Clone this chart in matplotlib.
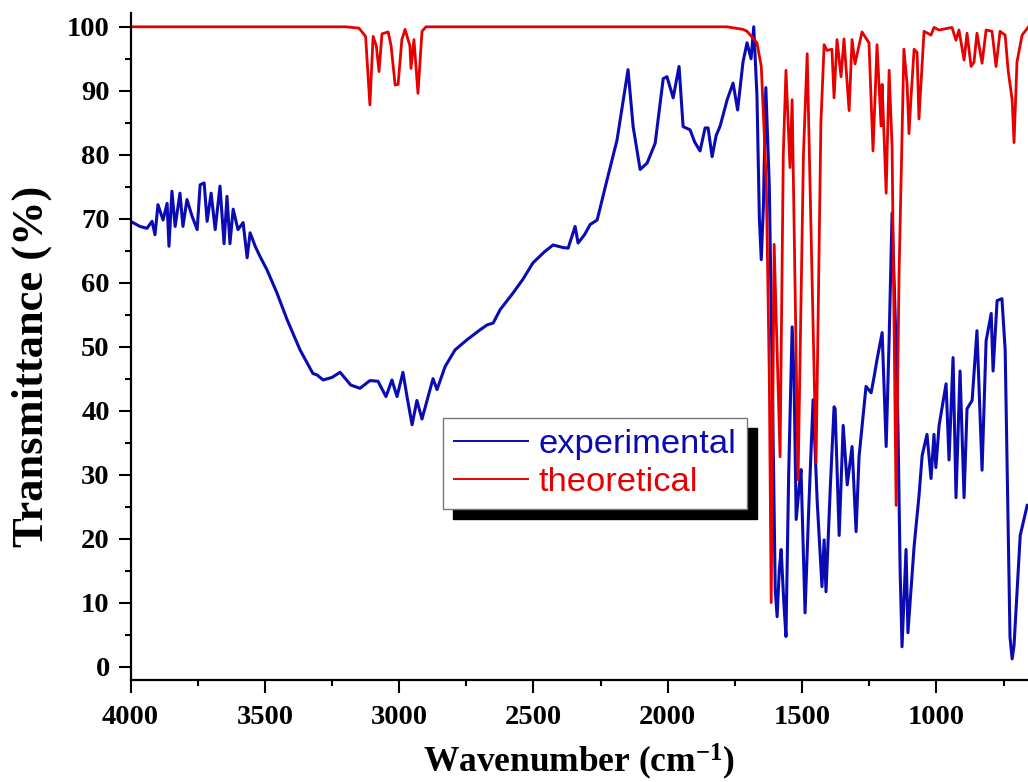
import matplotlib
matplotlib.use('Agg')
import matplotlib.pyplot as plt
from matplotlib.ticker import MultipleLocator

# experimental spectrum (wavenumber, transmittance %)
exp_wn = [4000, 3965, 3939, 3920, 3909, 3898, 3879, 3864, 3857, 3846, 3834, 3816,
          3805, 3790, 3771, 3752, 3741, 3726, 3715, 3700, 3685, 3667, 3652, 3641,
          3630, 3618, 3600, 3581, 3566, 3555, 3536, 3518, 3492, 3455, 3417, 3369,
          3321, 3306, 3283, 3250, 3220, 3180, 3146, 3109, 3079, 3049, 3027, 3008,
          2986, 2970, 2952, 2934, 2915, 2874, 2859, 2829, 2792, 2747, 2700, 2673,
          2650, 2624, 2576, 2540, 2502, 2460, 2427, 2390, 2371, 2345, 2334, 2310,
          2289, 2263, 2226, 2189, 2148, 2129, 2103, 2077, 2047, 2017, 2003, 1980,
          1958, 1943, 1917, 1900, 1880, 1861, 1850, 1835, 1820, 1805, 1779, 1757,
          1740, 1720, 1705, 1690, 1680, 1668, 1659, 1652, 1644, 1635, 1622, 1611,
          1600, 1593, 1585, 1578, 1568, 1560, 1550, 1537, 1530, 1522, 1511, 1504,
          1489, 1475, 1459, 1444, 1426, 1418, 1411, 1395, 1381, 1377, 1362, 1347,
          1332, 1314, 1299, 1288, 1262, 1243, 1232, 1221, 1202, 1187, 1176, 1165,
          1150, 1143, 1135, 1128, 1113, 1106, 1083, 1065, 1053, 1035, 1020, 1009,
          1002, 990, 964, 953, 938, 927, 912, 897, 886, 867, 849, 830,
          815, 796, 789, 774, 756, 744, 726, 718, 711, 688, 662]
exp_t = [69.6, 68.8, 68.5, 69.6, 67.5, 72.2, 69.8, 72.4, 65.7, 74.3, 68.8, 74.0,
         68.8, 73.0, 70.4, 68.3, 75.3, 75.6, 69.6, 74.0, 68.3, 75.1, 66.1, 73.5,
         66.1, 71.5, 68.3, 69.4, 63.9, 67.8, 65.7, 64.1, 62.0, 58.4, 54.2, 49.5,
         45.8, 45.6, 44.8, 45.2, 46.0, 44.0, 43.5, 44.7, 44.6, 42.2, 44.8, 42.2,
         46.0, 42.0, 37.8, 41.6, 38.7, 45.0, 43.3, 46.9, 49.5, 51.1, 52.6, 53.4,
         53.7, 55.8, 58.4, 60.5, 63.1, 64.8, 65.9, 65.5, 65.4, 68.8, 66.2, 67.5,
         69.1, 69.8, 76.1, 82.3, 93.3, 84.4, 77.7, 78.7, 81.8, 91.9, 92.2, 88.9,
         93.8, 84.4, 83.9, 82.0, 80.6, 84.2, 84.2, 79.7, 83.0, 84.5, 88.6, 91.2,
         87.0, 94.5, 97.5, 95.0, 100.0, 89.2, 70.0, 63.6, 72.0, 90.5, 75.0, 45.0,
         12.0, 7.8, 15.0, 18.3, 10.0, 4.7, 30.0, 53.1, 45.0, 23.0, 28.0, 30.8,
         8.4, 25.0, 41.7, 26.0, 12.5, 19.8, 11.7, 28.0, 40.6, 40.3, 20.5, 37.7,
         28.4, 34.4, 21.1, 32.8, 43.8, 42.8, 45.3, 48.0, 52.2, 34.4, 51.1, 70.9,
         50.0, 37.5, 15.0, 3.1, 18.3, 5.3, 18.8, 26.6, 33.0, 36.3, 29.4, 36.3,
         31.1, 37.7, 44.2, 32.3, 48.3, 26.4, 46.2, 26.4, 40.3, 41.6, 52.5, 30.7,
         50.9, 55.2, 46.2, 57.2, 57.5, 49.5, 4.6, 1.2, 3.3, 20.5, 25.2]

# calculated spectrum
theo_wn = [4000, 3200, 3150, 3125, 3109, 3097, 3085, 3075, 3064, 3041, 3030, 3015,
           3004, 2990, 2978, 2960, 2956, 2945, 2930, 2915, 2900, 1780, 1720, 1705,
           1668, 1652, 1641, 1633, 1622, 1615, 1604, 1582, 1570, 1560, 1545, 1537,
           1515, 1495, 1481, 1448, 1430, 1418, 1407, 1389, 1381, 1370, 1355, 1344,
           1325, 1314, 1303, 1277, 1251, 1236, 1221, 1206, 1202, 1187, 1176, 1165,
           1158, 1150, 1139, 1121, 1109, 1102, 1095, 1083, 1072, 1065, 1046, 1020,
           1009, 990, 942, 927, 916, 897, 886, 871, 860, 849, 830, 815,
           793, 778, 763, 744, 733, 718, 711, 700, 681, 659]
theo_t = [100.0, 100.0, 99.8, 98.5, 87.8, 98.5, 97.0, 93.0, 98.9, 99.2, 97.0, 90.9,
          91.0, 98.0, 99.6, 97.0, 93.5, 98.0, 89.6, 99.3, 100.0, 100.0, 99.6, 99.3,
          97.5, 93.8, 83.4, 75.0, 45.0, 10.0, 66.0, 32.8, 80.0, 93.2, 78.0, 88.6,
          29.2, 80.0, 95.8, 31.9, 85.0, 97.2, 96.3, 96.5, 88.9, 98.0, 92.2, 98.1,
          86.9, 98.0, 94.2, 99.2, 97.5, 80.6, 97.2, 84.5, 91.0, 74.0, 93.2, 81.2,
          55.0, 25.2, 61.4, 96.5, 91.0, 83.3, 88.6, 96.5, 96.0, 85.6, 99.3, 98.7,
          99.9, 99.5, 99.9, 97.9, 99.5, 94.8, 99.0, 93.8, 94.5, 99.0, 94.3, 99.5,
          99.3, 93.8, 99.3, 98.7, 93.2, 88.6, 81.9, 94.5, 98.7, 99.9]

x_ticks = [4000, 3500, 3000, 2500, 2000, 1500, 1000]

plt.rcParams['font.family'] = 'Liberation Serif'
plt.rcParams['font.weight'] = 'bold'
plt.rcParams['mathtext.fontset'] = 'custom'
plt.rcParams['mathtext.rm'] = 'Liberation Serif:bold'
plt.rcParams['mathtext.default'] = 'rm'

fig = plt.figure(figsize=(10.28, 7.82), dpi=100)
ax = fig.add_axes([0.127, 0.1304, 0.873, 0.8525])

ax.plot(exp_wn, exp_t, color='#0b0bb4', lw=2.2, label='experimental')
ax.plot(theo_wn, theo_t, color='#e60000', lw=2.0, label='theoretical')

ax.set_xlim(4000, 659)
ax.set_ylim(-2.1, 102.1)
ax.set_xticks(x_ticks)
ax.xaxis.set_minor_locator(MultipleLocator(250))
ax.yaxis.set_major_locator(MultipleLocator(10))
ax.yaxis.set_minor_locator(MultipleLocator(5))

for s in ['top', 'right']:
    ax.spines[s].set_visible(False)
for s in ['left', 'bottom']:
    ax.spines[s].set_linewidth(1.6)

ax.tick_params(which='major', direction='out', length=9, width=1.5, labelsize=20.5)
ax.tick_params(axis='x', which='major', pad=9)
ax.tick_params(axis='y', which='major', pad=6)
ax.tick_params(which='minor', direction='out', length=4.5, width=1.5)

ax.set_xlabel('Wavenumber (cm$^{-1}$)', fontsize=25.5, fontweight='bold', labelpad=8)
ax.set_ylabel('Transmittance (%)', fontsize=32, fontweight='bold')
ax.yaxis.set_label_coords(-0.088, 0.47)

leg = ax.legend(loc='upper left', bbox_to_anchor=(0.348, 0.393), borderaxespad=0,
                prop={'family': 'Liberation Sans', 'weight': 'normal', 'size': 24.8},
                labelcolor='linecolor', fancybox=False, framealpha=1,
                edgecolor='#777777', handlelength=2.15, handletextpad=0.3,
                labelspacing=0.2, borderpad=0.32,
                shadow={'ox': 7, 'oy': -7, 'color': 'black', 'alpha': 1})
leg.get_frame().set_linewidth(1.0)
for line in leg.get_lines():
    line.set_linewidth(1.4)

plt.savefig('out.png', dpi=100)
